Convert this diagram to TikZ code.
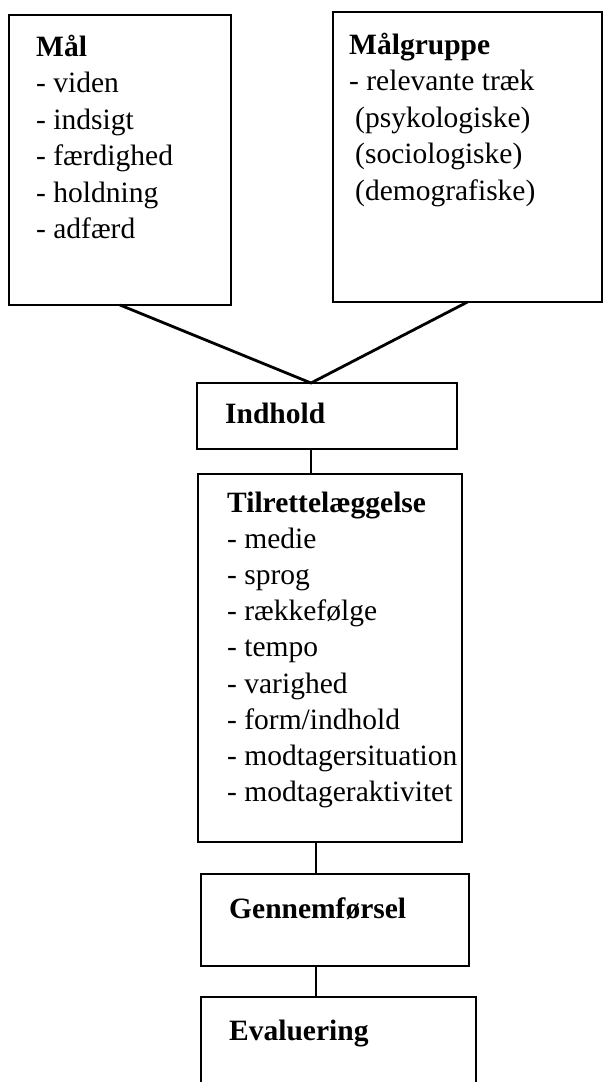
\documentclass[tikz,border=0pt]{standalone}
\usepackage{fontspec}
\setmainfont{Liberation Serif}
\usepackage{tikz}
\tikzstyle{box}  =[draw, rectangle, line width=2.8pt,
                   inner sep=0pt, outer sep=0pt]
\tikzstyle{edge} =[line width=2.8pt, line join=round]
\tikzstyle{titel}=[font=\bfseries\fontsize{29.5}{36}\selectfont,
                   inner sep=0pt, anchor=base west]
\tikzstyle{punkt}=[font=\fontsize{29.5}{36}\selectfont,
                   inner sep=0pt, anchor=base west]

\begin{document}
\begin{tikzpicture}[x=1pt,y=-1pt]
        \useasboundingbox (0,0) rectangle (603,1082);
        \clip (0,0) rectangle (603,1082);

        \begin{scope}[]
            \draw (120,160) node (mal) [box,minimum width=222pt,minimum height=290pt] {};
            \draw (36,56) node (malT) [titel] {Mål};
            \foreach \t [count=\k] in {viden,indsigt,færdighed,holdning,adfærd}
                \draw (36,56+36.5*\k) node (mal\k) [punkt] {- \t};
        \end{scope}

        \begin{scope}[]
            \draw (467.5,157) node (grp) [box,minimum width=269pt,minimum height=290pt] {};
            \draw (349,54) node (grpT) [titel] {Målgruppe};
            \foreach \x/\t [count=\k] in {349/{- relevante træk},355/{(psykologiske)},355/{(sociologiske)},355/{(demografiske)}}
                \draw (\x,54+36.5*\k) node (grp\k) [punkt] {\t};
        \end{scope}

        \begin{scope}[]
            \draw (327,416) node (indhold) [box,minimum width=260pt,minimum height=66pt] {};
            \draw (225,423) node (indholdT) [titel] {Indhold};
        \end{scope}

        \begin{scope}[]
            \draw (330,658) node (tilrett) [box,minimum width=264pt,minimum height=368pt] {};
            \draw (227,512) node (tilrettT) [titel] {Tilrettelæggelse};
            \foreach \t [count=\k] in {medie,sprog,rækkefølge,tempo,varighed,form/indhold,modtagersituation,modtageraktivitet}
                \draw (227,512+36.2*\k) node (tilrett\k) [punkt] {- \t};
        \end{scope}

        \begin{scope}[]
            \draw (335,920) node (gennem) [box,minimum width=268pt,minimum height=92pt] {};
            \draw (229,918) node (gennemT) [titel] {Gennemførsel};
        \end{scope}

        \begin{scope}[]
            \draw (338.5,1060) node (eval) [box,minimum width=275pt,minimum height=126pt] {};
            \draw (229,1040) node (evalT) [titel] {Evaluering};
        \end{scope}

        \coordinate (meet) at (311,383);
        \coordinate (spine) at (316,0);
        \draw [edge] (mal.south) -- (meet) -- (grp.south);
        \draw [edge] (indhold.south -| meet) -- (tilrett.north -| meet);
        \foreach \i/\j in {tilrett/gennem,gennem/eval}
            \draw [edge] (\i.south -| spine) -- (\j.north -| spine);

    \end{tikzpicture}
\end{document}
